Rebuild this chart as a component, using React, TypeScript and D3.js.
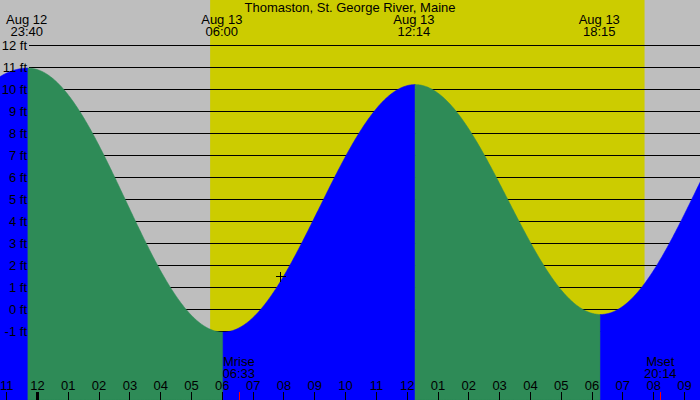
import React, { useEffect, useRef } from 'react';
import * as d3 from 'd3';

// hours relative to Aug 13 00:00
const extremeTimes = [-7.96, -0.293, 6.04, 12.273, 18.29, 24.59];
const extremeHeights = [-0.4, 10.95, -1.05, 10.2, -0.25, 11.3];

const labelTimes = [-0.333, 6.0, 12.233, 18.25];
const labelDates = ['Aug 12', 'Aug 13', 'Aug 13', 'Aug 13'];
const labelClock = ['23:40', '06:00', '12:14', '18:15'];

const sunrise = 5.62;
const sunset = 19.72;

const moonTimes = [6.55, 20.233];
const moonNames = ['Mrise', 'Mset'];
const moonClock = ['06:33', '20:14'];

const nowTime = 7.88;
const nowHeight = 1.5;

const hourTicks = d3.range(-1, 22);
const feetTicks = d3.range(-1, 13);

const title = 'Thomaston, St. George River, Maine';

const W = 700;
const H = 400;

export default function App() {
  const svgRef = useRef<SVGSVGElement>(null);

  useEffect(() => {
    if (!svgRef.current) return;
    const svg = d3.select(svgRef.current);
    svg.selectAll('*').remove();

    const x = d3.scaleLinear().domain([-1.2, 21.52]).range([0, W]);
    const y = d3.scaleLinear().domain([12, -1]).range([45, 331]);

    const font = '"Liberation Sans", Arial, sans-serif';

    // background: night grey, day yellow
    svg.append('rect').attr('width', W).attr('height', H).attr('fill', '#bebebe');
    svg.append('rect')
      .attr('x', x(sunrise)).attr('y', 0)
      .attr('width', x(sunset) - x(sunrise)).attr('height', H)
      .attr('fill', '#cccc00');

    // grid lines
    svg.selectAll('.grid')
      .data(feetTicks)
      .enter()
      .append('line')
      .attr('x1', 29).attr('x2', W)
      .attr('y1', d => Math.round(y(d)) + 0.5)
      .attr('y2', d => Math.round(y(d)) + 0.5)
      .attr('stroke', '#000')
      .attr('stroke-width', 1)
      .attr('shape-rendering', 'crispEdges');

    // tide curve between extremes (cosine shape), one area per rise/fall
    const height = (i: number, t: number) => {
      const t0 = extremeTimes[i], t1 = extremeTimes[i + 1];
      const h0 = extremeHeights[i], h1 = extremeHeights[i + 1];
      const f = (1 - Math.cos(Math.PI * (t - t0) / (t1 - t0))) / 2;
      return h0 + (h1 - h0) * f;
    };

    const area = d3.area<[number, number]>()
      .x(d => x(d[0]))
      .y0(H)
      .y1(d => y(d[1]));

    for (let i = 0; i < extremeTimes.length - 1; i++) {
      const a = Math.max(extremeTimes[i], -1.3);
      const b = Math.min(extremeTimes[i + 1], 21.7);
      if (b <= a) continue;
      const pts: [number, number][] = d3.range(a, b, 0.02).map(t => [t, height(i, t)]);
      pts.push([b, height(i, b)]);
      const rising = extremeHeights[i + 1] > extremeHeights[i];
      svg.append('path')
        .datum(pts)
        .attr('d', area)
        .attr('fill', rising ? '#0000ff' : '#2e8b57')
        .attr('stroke', rising ? '#0000ff' : '#2e8b57')
        .attr('stroke-width', 0.6);
    }

    // y labels
    svg.selectAll('.ylab')
      .data(feetTicks)
      .enter()
      .append('text')
      .attr('x', 27)
      .attr('y', d => y(d) + 4.5)
      .attr('text-anchor', 'end')
      .attr('font-family', font)
      .attr('font-size', '13px')
      .attr('fill', '#000')
      .text(d => `${d} ft`);

    // title
    svg.append('text')
      .attr('x', W / 2).attr('y', 12)
      .attr('text-anchor', 'middle')
      .attr('font-family', font)
      .attr('font-size', '13px')
      .text(title);

    // extreme labels
    labelTimes.forEach((t, i) => {
      const g = svg.append('text')
        .attr('text-anchor', 'middle')
        .attr('font-family', font)
        .attr('font-size', '13px');
      g.append('tspan').attr('x', x(t)).attr('y', 24).text(labelDates[i]);
      g.append('tspan').attr('x', x(t)).attr('y', 36).text(labelClock[i]);
    });

    // hour ticks
    svg.selectAll('.tick')
      .data(hourTicks)
      .enter()
      .append('rect')
      .attr('x', d => (d === 0 ? Math.round(x(d)) - 1 : Math.round(x(d))))
      .attr('y', 392)
      .attr('width', d => (d === 0 ? 3 : 1))
      .attr('height', 8)
      .attr('fill', '#000');

    svg.selectAll('.hlab')
      .data(hourTicks)
      .enter()
      .append('text')
      .attr('x', d => x(d) + 0.5)
      .attr('y', 390)
      .attr('text-anchor', 'middle')
      .attr('font-family', font)
      .attr('font-size', '13px')
      .text(d => {
        const h = ((d % 12) + 12) % 12;
        return d3.format('02')(h === 0 ? 12 : h);
      });

    // moon rise / set
    moonTimes.forEach((t, i) => {
      svg.append('rect')
        .attr('x', Math.round(x(t))).attr('y', 392)
        .attr('width', 1).attr('height', 8)
        .attr('fill', '#ff0000');
      const g = svg.append('text')
        .attr('text-anchor', 'middle')
        .attr('font-family', font)
        .attr('font-size', '13px');
      g.append('tspan').attr('x', x(t)).attr('y', 366).text(moonNames[i]);
      g.append('tspan').attr('x', x(t)).attr('y', 378).text(moonClock[i]);
    });

    // current time marker
    const cx = Math.round(x(nowTime)) + 0.5;
    const cy = Math.round(y(nowHeight)) + 0.5;
    svg.append('path')
      .attr('d', `M${cx - 5},${cy}H${cx + 5}M${cx},${cy - 5}V${cy + 5}`)
      .attr('stroke', '#000')
      .attr('stroke-width', 1)
      .attr('shape-rendering', 'crispEdges');
  }, []);

  return (
    <svg
      ref={svgRef}
      width={W}
      height={H}
      style={{ position: 'absolute', left: 0, top: 0, display: 'block' }}
    />
  );
}
